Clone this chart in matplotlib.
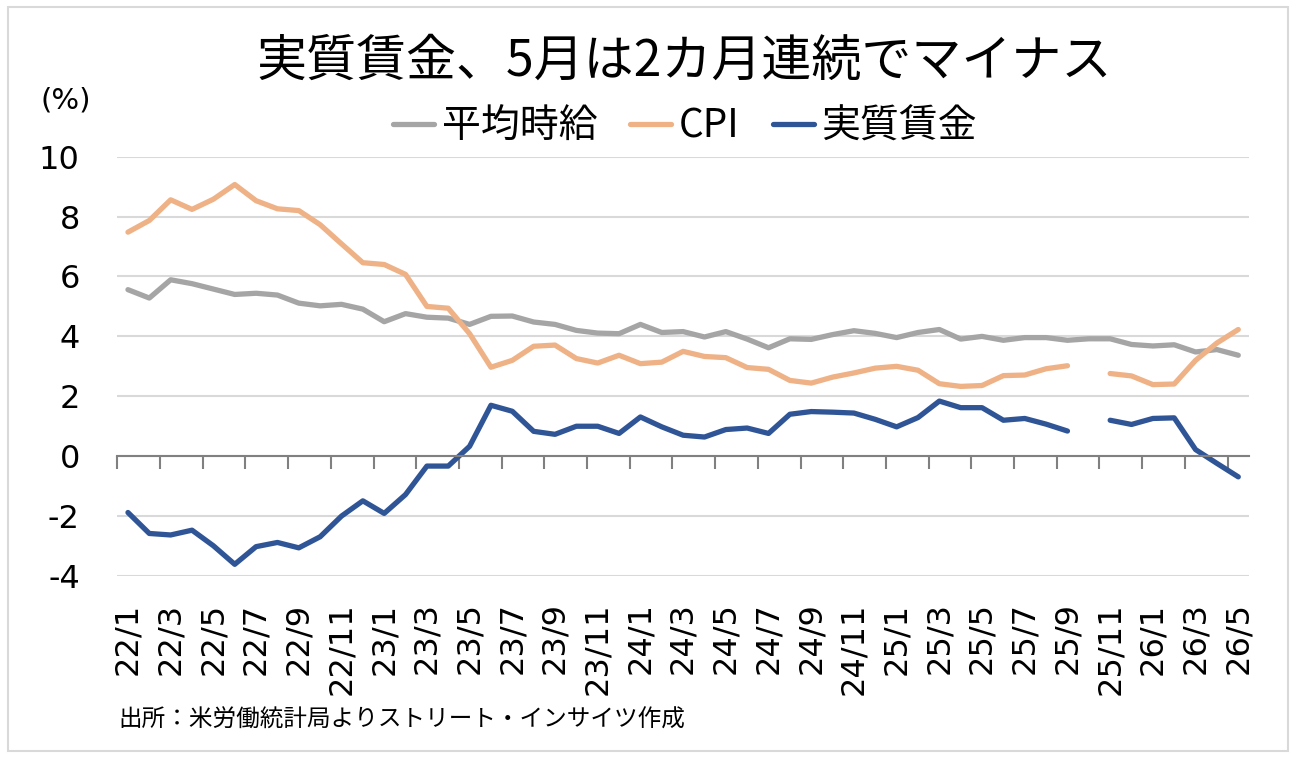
import matplotlib
matplotlib.use("Agg")
import matplotlib.pyplot as plt
import numpy as np
from matplotlib.patches import Rectangle

plt.rcParams['font.family'] = ['Noto Sans CJK JP', 'DejaVu Sans']
plt.rcParams['axes.unicode_minus'] = False

# --- data ---
months = ['22/1', '22/2', '22/3', '22/4', '22/5', '22/6', '22/7', '22/8', '22/9', '22/10', '22/11', '22/12',
          '23/1', '23/2', '23/3', '23/4', '23/5', '23/6', '23/7', '23/8', '23/9', '23/10', '23/11', '23/12',
          '24/1', '24/2', '24/3', '24/4', '24/5', '24/6', '24/7', '24/8', '24/9', '24/10', '24/11', '24/12',
          '25/1', '25/2', '25/3', '25/4', '25/5', '25/6', '25/7', '25/8', '25/9', '25/10', '25/11', '25/12',
          '26/1', '26/2', '26/3', '26/4', '26/5']

hourly_wage = [5.56, 5.28, 5.89, 5.76, 5.58, 5.40, 5.44, 5.38, 5.11, 5.02, 5.07, 4.91,
               4.49, 4.76, 4.64, 4.61, 4.40, 4.67, 4.68, 4.48, 4.40, 4.20, 4.11, 4.09,
               4.40, 4.13, 4.16, 3.98, 4.16, 3.91, 3.62, 3.92, 3.90, 4.06, 4.19, 4.10,
               3.96, 4.13, 4.23, 3.91, 4.00, 3.87, 3.96, 3.96, 3.87, 3.92, 3.92, 3.73,
               3.68, 3.72, 3.48, 3.56, 3.37]

cpi = [7.48, 7.87, 8.56, 8.24, 8.58, 9.07, 8.53, 8.26, 8.20, 7.73, 7.09, 6.46,
       6.40, 6.07, 5.00, 4.94, 4.09, 2.97, 3.20, 3.67, 3.71, 3.26, 3.11, 3.37,
       3.09, 3.14, 3.50, 3.33, 3.29, 2.96, 2.90, 2.53, 2.44, 2.64, 2.78, 2.94,
       3.00, 2.87, 2.42, 2.33, 2.36, 2.69, 2.71, 2.92, 3.02, np.nan, 2.76, 2.68,
       2.39, 2.41, 3.20, 3.78, 4.23]

real_wage = [-1.88, -2.58, -2.63, -2.47, -2.99, -3.61, -3.02, -2.88, -3.06, -2.69, -2.00, -1.49,
             -1.91, -1.28, -0.33, -0.33, 0.33, 1.70, 1.50, 0.83, 0.73, 1.00, 1.00, 0.76,
             1.31, 0.98, 0.70, 0.64, 0.89, 0.94, 0.76, 1.40, 1.49, 1.47, 1.44, 1.23,
             0.98, 1.29, 1.84, 1.62, 1.62, 1.20, 1.26, 1.07, 0.84, np.nan, 1.20, 1.06,
             1.26, 1.28, 0.22, -0.24, -0.69]

series_names = ['平均時給', 'CPI', '実質賃金']
colors = ['#A5A5A5', '#EEB286', '#2F5597']

title = '実質賃金、5月は2カ月連続でマイナス'
source = '出所：米労働統計局よりストリート・インサイツ作成'

x = np.arange(len(months))

fig = plt.figure(figsize=(12.96, 7.58), dpi=100)
ax = fig.add_axes([0.0905, 0.2401, 0.8732, 0.5532])

for vals, name, c in zip([hourly_wage, cpi, real_wage], series_names, colors):
    ax.plot(x, vals, color=c, lw=3.8, label=name,
            solid_joinstyle='round', solid_capstyle='round')

ax.set_xlim(-0.5, len(months) - 0.5)
ax.set_ylim(-4, 10)
ax.set_yticks(np.arange(-4, 11, 2))
ax.grid(axis='y', color='#D9D9D9', lw=1.5)
ax.set_axisbelow(True)

for s in ['top', 'right', 'left']:
    ax.spines[s].set_visible(False)
ax.spines['bottom'].set_position(('data', 0))
ax.spines['bottom'].set_color('#808080')
ax.spines['bottom'].set_linewidth(1.5)

# tick marks between category pairs, on the zero line
ax.set_xticks(np.arange(-0.5, len(months) - 1, 2))
ax.tick_params(axis='x', direction='out', length=9, width=1.5, color='#808080',
               labelbottom=False)
ax.tick_params(axis='y', length=0, pad=27, labelsize=23)
for lbl in ax.get_yticklabels():
    lbl.set_fontfamily('DejaVu Sans')

# month labels at the bottom of the plot area
sec = ax.secondary_xaxis('bottom')
sec.set_xticks(x[::2], months[::2])
sec.spines['bottom'].set_visible(False)
sec.tick_params(length=0, pad=19, labelsize=23, labelrotation=90)
for lbl in sec.get_xticklabels():
    lbl.set_fontfamily('DejaVu Sans')

fig.text(684 / 1296, 1 - 62 / 758, title, fontsize=36, ha='center', va='center')
fig.text(66 / 1296, 1 - 101 / 758, '(%)', fontsize=21, ha='center', va='center',
         family='DejaVu Sans')
fig.text(118 / 1296, 1 - 720 / 758, source, fontsize=17, ha='left', va='center')

fig.legend(loc='center', bbox_to_anchor=(685 / 1296, 1 - 127 / 758), ncol=3,
           frameon=False, fontsize=28, handlelength=1.05, handletextpad=0.2,
           columnspacing=0.85, borderpad=0, borderaxespad=0)

fig.add_artist(Rectangle((8 / 1296, 7 / 758), 1280 / 1296, 744 / 758,
                         transform=fig.transFigure, fill=False,
                         edgecolor='#D9D9D9', lw=1.5))

fig.savefig('out.png', dpi=100)
